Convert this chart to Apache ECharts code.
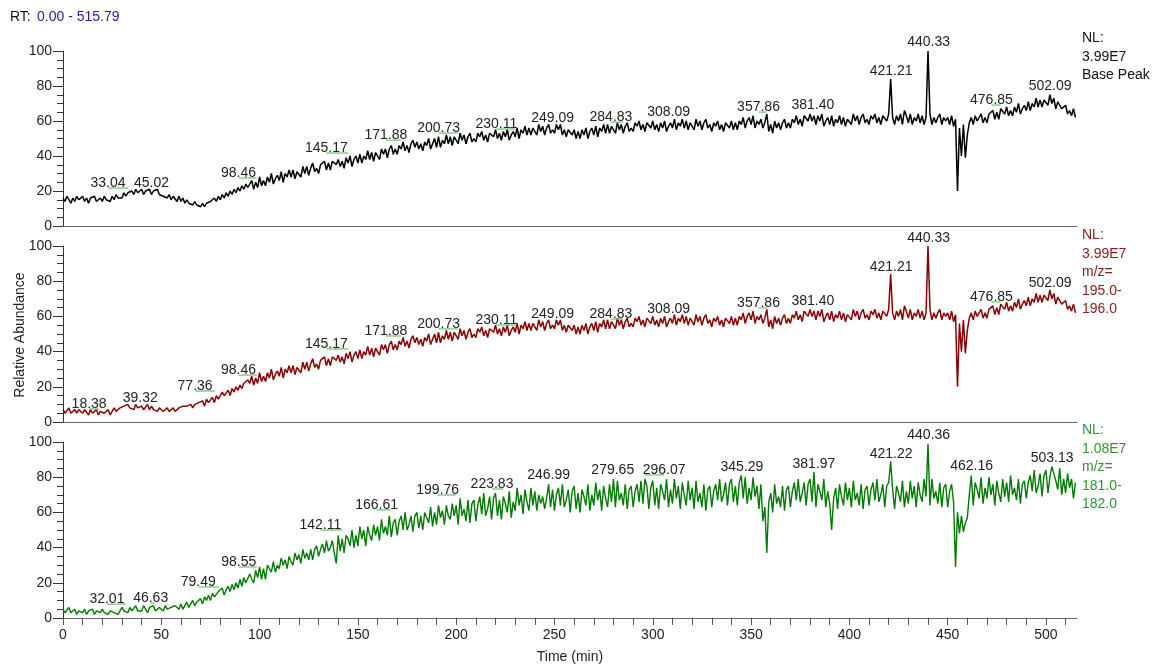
<!DOCTYPE html>
<html>
<head>
<meta charset="utf-8">
<script src="https://cdn.jsdelivr.net/npm/echarts@6/dist/echarts.min.js"></script>
<style>
  html, body { margin: 0; padding: 0; background: #fff; }
  #chart { width: 1155px; height: 664px; }
</style>
</head>
<body>
<div id="chart"></div>
<script>
// ---- data: chromatogram traces sampled once per minute ----
const sampleStepMin = 1;
const rtMax = 515.79;

// Base peak trace, 0-95 min
const bpcHead = [
  16,14,17,15,13,16,14,17,15,14,
  17,14,16,13,16,15,17,14,15,16,
  14,17,15,16,14,17,15,18,16,17,
  16,19,17,19,18,20,18,21,19,20,
  21,18,20,19,21,18,20,19,21,18,
  19,17,18,16,18,15,17,16,14,17,
  14,16,13,15,13,14,12,14,12,13,
  11,13,11,13,12,14,13,16,14,17,
  15,18,16,19,17,20,18,21,19,22,
  20,23,21,24,22,23
];

// m/z 195.0-196.0 trace, 0-95 min
const xic195Head = [
  7,5,6,8,5,6,7,5,7,6,
  5,7,6,4,7,5,6,7,4,6,
  7,5,6,7,4,6,8,6,7,8,
  7,9,8,10,8,9,7,10,8,9,
  9,7,8,10,7,9,7,8,6,8,
  8,6,7,8,6,7,8,6,7,8,
  7,9,8,9,8,10,8,10,9,11,
  10,12,9,13,11,12,14,11,15,13,
  14,17,15,16,18,15,19,17,20,18,
  21,19,22,21,24,22
];

// 96-515 min: base peak and m/z 195 traces coincide
const sharedTail = [
  26,21,25,22,
  28,23,26,23,28,25,30,24,27,29,
  26,31,25,30,28,32,28,32,27,31,
  31,28,34,30,34,29,33,36,31,33,
  30,35,34,37,32,36,32,37,38,35,
  38,34,37,33,39,36,40,34,38,40,
  36,41,36,40,38,43,38,42,37,42,
  41,38,44,41,44,39,44,46,41,44,
  41,46,44,48,43,46,42,47,49,45,
  48,44,47,43,48,46,50,44,47,50,
  45,51,45,49,47,52,47,51,46,51,
  51,47,53,49,52,47,51,53,48,50,
  48,53,51,54,49,52,48,53,54,51,
  55,50,53,49,54,51,55,49,52,54,
  51,56,50,55,53,57,52,56,52,56,
  56,52,58,54,57,52,56,58,53,55,
  53,58,55,58,52,55,51,55,56,52,
  55,50,54,50,55,52,56,50,54,56,
  52,57,51,56,54,58,53,58,53,57,
  57,53,59,55,58,53,57,59,54,56,
  54,59,57,60,55,58,54,59,60,56,
  60,55,58,54,59,56,60,54,57,59,
  56,61,55,59,57,61,56,60,55,59,
  59,55,61,57,60,55,59,61,56,58,
  54,59,57,60,55,58,54,59,60,56,
  60,55,59,55,60,58,62,56,60,62,
  58,63,56,60,58,61,56,59,64,54,
  58,53,60,56,59,55,59,61,56,59,
  56,61,59,63,58,61,57,63,64,60,
  64,60,63,58,63,60,64,57,60,62,
  58,63,57,61,59,63,58,62,57,61,
  62,58,64,60,63,58,62,64,59,61,
  58,63,61,64,59,62,58,63,64,60,
  64,84,62,58,63,60,64,58,66,63,
  59,64,58,62,60,64,59,63,58,62,
  100,64,58,62,59,62,64,58,62,60,
  62,58,63,57,61,20,56,40,58,39,
  52,59,62,58,63,60,62,64,59,62,
  59,64,63,66,61,65,61,67,68,64,
  68,63,66,63,68,65,70,64,67,69,
  66,71,66,70,68,73,68,72,68,72,
  73,69,75,70,73,67,71,72,67,68,
  69,64,66,63,67,62
];

// m/z 181.0-182.0 trace, 0-515 min
const xic181 = [
  5,3,4,6,3,4,5,2,4,5,
  3,5,2,4,3,5,2,4,4,3,
  5,3,4,2,4,5,3,4,2,4,
  6,4,5,3,6,4,5,7,4,5,
  4,7,5,3,6,5,7,4,5,6,
  6,4,7,5,4,6,5,7,6,5,
  8,5,7,9,6,8,10,7,9,8,
  11,8,12,10,13,10,14,12,11,15,
  14,17,13,16,18,15,19,16,20,17,
  22,18,23,20,21,25,22,20,27,23,
  29,22,28,22,30,28,26,32,26,30,
  28,34,30,33,28,35,32,30,37,33,
  36,31,39,34,37,33,39,33,39,41,
  35,39,42,37,44,38,40,44,37,31,
  47,38,45,37,47,45,41,50,40,47,
  41,52,45,50,41,52,47,44,53,47,
  52,44,56,48,52,47,58,46,54,56,
  47,55,58,50,60,50,53,58,49,58,
  60,51,58,50,60,57,54,63,52,60,
  53,64,57,61,53,64,58,56,65,58,
  64,53,68,58,62,55,67,54,65,67,
  55,64,69,59,71,58,62,69,56,68,
  71,58,67,56,69,65,60,72,57,66,
  61,74,64,70,59,73,66,61,74,64,
  72,61,70,65,69,62,68,76,63,73,
  61,70,74,64,76,63,67,73,60,72,
  75,62,71,60,73,69,64,76,61,70,
  64,77,67,73,61,75,68,63,76,66,
  79,63,78,67,71,64,76,62,73,75,
  63,72,76,66,78,65,79,75,62,74,
  78,64,74,62,76,72,67,79,63,73,
  65,79,68,75,62,77,70,64,78,67,
  74,62,78,66,71,63,76,61,73,75,
  63,72,76,67,79,66,70,77,64,76,
  79,66,75,64,77,81,68,80,65,74,
  67,80,69,75,62,76,55,63,37,66,
  71,60,76,65,69,63,75,61,73,75,
  63,72,77,67,79,66,71,77,64,76,
  79,66,83,63,76,72,67,79,63,72,
  65,50,68,74,62,76,69,64,77,67,
  74,63,78,67,71,64,76,62,73,75,
  64,73,77,67,79,66,70,76,63,75,
  77,89,73,62,75,71,66,78,63,72,
  65,78,68,75,63,77,70,66,79,69,
  99,64,79,68,72,65,77,63,74,76,
  63,72,76,66,29,60,48,58,49,54,
  57,70,81,64,77,73,68,80,65,74,
  68,80,70,76,64,78,71,66,79,69,
  77,66,81,70,74,67,79,65,76,78,
  68,77,81,72,84,71,75,82,69,81,
  84,71,80,86,82,78,73,85,70,79,
  71,82,74,79,68,77
];

// ---- annotated peaks: retention time and apex height (relative abundance) ----
const bpcPeakRT  = [33.04, 45.02, 98.46, 145.17, 171.88, 200.73, 230.11, 249.09, 284.83, 308.09, 357.86, 381.40, 421.21, 440.33, 476.85, 502.09];
const bpcPeakTop = [19.7, 19.7, 25.4, 39.7, 47.1, 51.1, 53.4, 56.9, 57.4, 60.3, 63.1, 64.3, 83.7, 100.3, 67.1, 75.1];

const xic195PeakRT  = [18.38, 39.32, 77.36, 98.46, 145.17, 171.88, 200.73, 230.11, 249.09, 284.83, 308.09, 357.86, 381.40, 421.21, 440.33, 476.85, 502.09];
const xic195PeakTop = [5.4, 8.8, 15.6, 24.7, 39.5, 46.9, 50.9, 53.1, 56.5, 56.5, 59.4, 62.8, 63.9, 83.2, 99.7, 66.2, 74.1];

const xic181PeakRT  = [32.01, 46.63, 79.49, 98.55, 142.11, 166.61, 199.76, 223.83, 246.99, 279.65, 296.07, 345.29, 381.97, 421.22, 440.36, 462.16, 503.13];
const xic181PeakTop = [5.9, 6.5, 15.6, 27, 48, 59.4, 67.9, 71.3, 76.4, 79.3, 79.3, 81, 82.7, 88.4, 99.1, 81.5, 86];

// ---- trace headers ----
const bpcHeader    = ['NL:', '3.99E7', 'Base Peak'];
const xic195Header = ['NL:', '3.99E7', 'm/z=', '195.0-', '196.0'];
const xic181Header = ['NL:', '1.08E7', 'm/z=', '181.0-', '182.0'];

// ---- axis ticks ----
const xTickLabels = [0, 50, 100, 150, 200, 250, 300, 350, 400, 450, 500];
const xMinorTicks = [0,10,20,30,40,50,60,70,80,90,100,110,120,130,140,150,160,170,180,190,200,210,220,230,240,250,260,270,280,290,300,310,320,330,340,350,360,370,380,390,400,410,420,430,440,450,460,470,480,490,500,510];
const yTickLabels = [0, 20, 40, 60, 80, 100];

// ---- layout (pixels): horizontal shift of peak labels relative to the apex ----
const bpcLabelShift    = [-20, 0, -18, -22, -15, -19, -19, 0, -12, 0, -8, 0, 0, 0, -9, 0];
const xic195LabelShift = [-10, 0, -20, -18, -22, -15, -19, -19, 0, -12, 0, -8, 0, 0, 0, -9, 0];
const xic181LabelShift = [-19, -4, -21, -18, -22, -14, -18, -11, 0, 0, 19, 0, 0, 0, 0, 0, 0];

const FONT_FAMILY = '"Liberation Sans", Arial, Helvetica, sans-serif';

function toPairs(values) {
  return values.map((v, i) => [i * sampleStepMin, v]);
}

const panels = [
  { top: 51,  height: 175, color: '#000000', textColor: '#111111', width: 1.5,
    trace: toPairs(bpcHead.concat(sharedTail)),
    rt: bpcPeakRT, apex: bpcPeakTop, shift: bpcLabelShift,
    header: bpcHeader, headerTop: 29 },
  { top: 246, height: 176, color: '#8b0000', textColor: '#8b1a1a', width: 1.5,
    trace: toPairs(xic195Head.concat(sharedTail)),
    rt: xic195PeakRT, apex: xic195PeakTop, shift: xic195LabelShift,
    header: xic195Header, headerTop: 226 },
  { top: 442, height: 176, color: '#007a00', textColor: '#2e9a2e', width: 1.4,
    trace: toPairs(xic181),
    rt: xic181PeakRT, apex: xic181PeakTop, shift: xic181LabelShift,
    header: xic181Header, headerTop: 421 }
];

const chart = echarts.init(document.getElementById('chart'), null, { renderer: 'canvas' });

const grids = panels.map(p => ({ left: 63, width: 1014, top: p.top, height: p.height }));

const xAxes = panels.map((p, i) => ({
  type: 'value', gridIndex: i, min: 0, max: rtMax,
  axisLine: { show: true, onZero: false, lineStyle: { color: '#666', width: 1 } },
  axisTick: { show: i === 2, length: 7, customValues: xMinorTicks, lineStyle: { color: '#555' } },
  axisLabel: { show: i === 2, customValues: xTickLabels, color: '#222', fontSize: 14, fontFamily: FONT_FAMILY, margin: 10 },
  splitLine: { show: false }
}));

const yAxes = panels.map((p, i) => ({
  type: 'value', gridIndex: i, min: 0, max: 100, interval: 20,
  axisLine: { show: true, lineStyle: { color: '#333', width: 1 } },
  axisTick: { show: true, length: 10, lineStyle: { color: '#333' } },
  minorTick: { show: true, splitNumber: 4, length: 6, lineStyle: { color: '#333' } },
  axisLabel: { color: '#222', fontSize: 14, fontFamily: FONT_FAMILY, margin: 11,
               formatter: v => (yTickLabels.indexOf(v) >= 0 ? String(v) : '') },
  splitLine: { show: false },
  minorSplitLine: { show: false }
}));

const series = [];
panels.forEach((p, i) => {
  series.push({
    type: 'line', xAxisIndex: i, yAxisIndex: i,
    data: p.trace, showSymbol: false, symbol: 'none',
    lineStyle: { color: p.color, width: p.width },
    animation: false, silent: true, z: 2
  });
  series.push({
    type: 'custom', xAxisIndex: i, yAxisIndex: i,
    data: p.rt.map((t, k) => [t, p.apex[k], k]),
    encode: { x: 0, y: 1 },
    animation: false, silent: true, z: 5, clip: false,
    renderItem: (params, api) => {
      const t = api.value(0);
      const pt = api.coord([t, api.value(1)]);
      const k = api.value(2);
      const dx = p.shift[k];
      const children = [{
        type: 'text',
        x: pt[0] + dx, y: pt[1] - 1,
        style: {
          text: t.toFixed(2), textAlign: 'center', textVerticalAlign: 'bottom',
          font: '14px ' + FONT_FAMILY, fill: '#222'
        }
      }];
      if (dx !== 0) {
        children.push({
          type: 'line',
          shape: { x1: pt[0], y1: pt[1] - 3.5, x2: pt[0] + dx, y2: pt[1] - 3.5 },
          style: { stroke: '#66c266', lineWidth: 1.2 }
        });
      }
      return { type: 'group', children };
    }
  });
});

const graphics = [
  { type: 'text', left: 10, top: 10, style: { text: 'RT:', font: '14px ' + FONT_FAMILY, fill: '#111' } },
  { type: 'text', left: 37, top: 10, style: { text: '0.00 - 515.79', font: '14px ' + FONT_FAMILY, fill: '#1f1fa0' } },
  { type: 'text', x: 20, y: 335, rotation: Math.PI / 2,
    style: { text: 'Relative Abundance', font: '14px ' + FONT_FAMILY, fill: '#222', textAlign: 'center', textVerticalAlign: 'middle' } },
  { type: 'text', x: 570, y: 657,
    style: { text: 'Time (min)', font: '14px ' + FONT_FAMILY, fill: '#222', textAlign: 'center', textVerticalAlign: 'middle' } }
];
panels.forEach(p => {
  graphics.push({
    type: 'text', x: 1082, y: p.headerTop,
    style: { text: p.header.join('\n'), font: '14px ' + FONT_FAMILY, fill: p.textColor, lineHeight: 18.5,
             textAlign: 'left', textVerticalAlign: 'top' }
  });
});

chart.setOption({
  animation: false,
  backgroundColor: '#ffffff',
  grid: grids,
  xAxis: xAxes,
  yAxis: yAxes,
  series: series,
  graphic: graphics
});
</script>
</body>
</html>
